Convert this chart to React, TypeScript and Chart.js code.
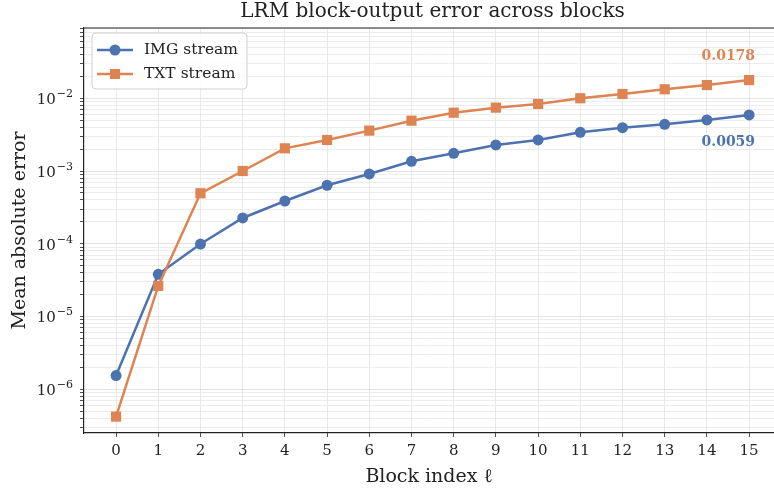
import React, { useEffect, useRef } from 'react';
import { Chart, registerables } from 'chart.js';

Chart.register(...registerables);

const FONT = '"DejaVu Serif", serif';

const blocks = [0, 1, 2, 3, 4, 5, 6, 7, 8, 9, 10, 11, 12, 13, 14, 15];
const imgStream = [1.54e-6, 3.8e-5, 9.9e-5, 2.26e-4, 3.87e-4, 6.37e-4, 9.1e-4, 1.36e-3, 1.75e-3, 2.28e-3, 2.67e-3, 3.4e-3, 3.94e-3, 4.38e-3, 5.03e-3, 5.9e-3];
const txtStream = [4.2e-7, 2.63e-5, 4.94e-4, 1.0e-3, 2.05e-3, 2.67e-3, 3.59e-3, 4.92e-3, 6.33e-3, 7.43e-3, 8.35e-3, 1.0e-2, 1.146e-2, 1.33e-2, 1.52e-2, 1.78e-2];
const seriesNames = ['IMG stream', 'TXT stream'];
const seriesColors = ['#4c72b0', '#dd8452'];
const titleText = 'LRM block-output error across blocks';
const xTitle = 'Block index ℓ';
const yTitle = 'Mean absolute error';
const yMin = 2.5e-7;
const yMax = 0.0925;
const xMin = -0.76;
const xMaxVisible = 15.59;
const xMaxFull = 15.76;

const isDecade = (v: number) => {
  const l = Math.log10(v);
  return Math.abs(l - Math.round(l)) < 1e-6;
};

const overlayPlugin = {
  id: 'overlay',
  afterDraw(chart: any) {
    const ctx = chart.ctx;
    const area = chart.chartArea;
    const xs = chart.scales.x;
    const ys = chart.scales.y;
    ctx.save();
    // top spine
    ctx.strokeStyle = '#222';
    ctx.lineWidth = 1.2;
    ctx.beginPath();
    ctx.moveTo(area.left, area.top);
    ctx.lineTo(area.right, area.top);
    ctx.stroke();

    // y tick labels: 10 with raised exponent
    ctx.fillStyle = '#222';
    ctx.textBaseline = 'alphabetic';
    ys.ticks.forEach((t: any) => {
      if (!isDecade(t.value)) return;
      const e = Math.round(Math.log10(t.value));
      const py = ys.getPixelForValue(t.value);
      const expStr = '−' + String(Math.abs(e));
      ctx.font = `11px ${FONT}`;
      const ew = ctx.measureText(expStr).width;
      const right = area.left - 11;
      ctx.textAlign = 'right';
      ctx.fillText(expStr, right, py - 1);
      ctx.font = `15px ${FONT}`;
      ctx.fillText('10', right - ew - 1, py + 6);
    });

    // title
    const fullRight = xs.getPixelForValue(xMaxFull);
    ctx.fillStyle = '#222';
    ctx.font = `20px ${FONT}`;
    ctx.textAlign = 'center';
    ctx.textBaseline = 'middle';
    ctx.fillText(titleText, (area.left + fullRight) / 2, 12);

    // end annotations
    const last = blocks.length - 1;
    ctx.font = `bold 14px ${FONT}`;
    ctx.textAlign = 'right';
    const tx = xs.getPixelForValue(blocks[last]);
    ctx.fillStyle = seriesColors[1];
    ctx.fillText(txtStream[last].toFixed(4), tx + 6, ys.getPixelForValue(txtStream[last]) - 24);
    ctx.fillStyle = seriesColors[0];
    ctx.fillText(imgStream[last].toFixed(4), tx + 6, ys.getPixelForValue(imgStream[last]) + 27);

    // legend
    const lx = area.left + 8;
    const ly = area.top + 5;
    const lw = 155;
    const lh = 56;
    ctx.beginPath();
    ctx.roundRect(lx, ly, lw, lh, 4);
    ctx.fillStyle = 'rgba(255,255,255,0.85)';
    ctx.fill();
    ctx.strokeStyle = '#d0d0d0';
    ctx.lineWidth = 1;
    ctx.stroke();
    ctx.font = `15.5px ${FONT}`;
    ctx.textAlign = 'left';
    ctx.textBaseline = 'middle';
    seriesNames.forEach((name, i) => {
      const y = ly + 17 + i * 24;
      ctx.strokeStyle = seriesColors[i];
      ctx.lineWidth = 2.5;
      ctx.beginPath();
      ctx.moveTo(lx + 5, y);
      ctx.lineTo(lx + 41, y);
      ctx.stroke();
      ctx.fillStyle = seriesColors[i];
      if (i === 0) {
        ctx.beginPath();
        ctx.arc(lx + 23, y, 5.5, 0, Math.PI * 2);
        ctx.fill();
      } else {
        ctx.fillRect(lx + 18, y - 5, 10, 10);
      }
      ctx.fillStyle = '#222';
      ctx.fillText(name, lx + 52, y);
    });
    ctx.restore();
  },
};

export default function App() {
  const ref = useRef<HTMLCanvasElement | null>(null);
  useEffect(() => {
    if (!ref.current) return;
    const chart = new Chart(ref.current, {
      type: 'line',
      data: {
        datasets: [
          {
            label: seriesNames[0],
            data: blocks.map((b, i) => ({ x: b, y: imgStream[i] })),
            borderColor: seriesColors[0],
            backgroundColor: seriesColors[0],
            borderWidth: 2.5,
            pointStyle: 'circle',
            pointRadius: 5.5,
            pointBorderWidth: 0,
            tension: 0,
            order: 1,
          },
          {
            label: seriesNames[1],
            data: blocks.map((b, i) => ({ x: b, y: txtStream[i] })),
            borderColor: seriesColors[1],
            backgroundColor: seriesColors[1],
            borderWidth: 2.5,
            pointStyle: 'rect',
            pointRadius: 7.2,
            pointBorderWidth: 0,
            tension: 0,
            order: 0,
          },
        ],
      },
      options: {
        responsive: false,
        animation: false,
        devicePixelRatio: 1,
        layout: { autoPadding: false, padding: { top: 28, right: 0, bottom: 0, left: 0 } },
        plugins: { legend: { display: false }, tooltip: { enabled: false }, title: { display: false } },
        scales: {
          x: {
            type: 'linear',
            min: xMin,
            max: xMaxVisible,
            afterBuildTicks: (scale: any) => {
              scale.ticks = blocks.map((b) => ({ value: b }));
            },
            afterFit: (scale: any) => {
              scale.height = 55;
              scale.paddingLeft = 0;
              scale.paddingRight = 0;
            },
            ticks: {
              autoSkip: false,
              maxRotation: 0,
              padding: 5,
              color: '#222',
              font: { family: FONT, size: 15 },
              callback: (v: any) => String(v),
            },
            grid: { color: '#e3e3e3', lineWidth: 0.8, tickColor: '#222', tickLength: 4 },
            border: { color: '#222', width: 1.2 },
            title: {
              display: true,
              text: xTitle,
              color: '#222',
              font: { family: FONT, size: 19 },
              padding: { top: 2, bottom: 0 },
            },
          },
          y: {
            type: 'logarithmic',
            min: yMin,
            max: yMax,
            afterBuildTicks: (scale: any) => {
              const t: any[] = [];
              for (let e = -8; e <= 0; e++) {
                for (let m = 1; m <= 9; m++) {
                  const v = m * Math.pow(10, e);
                  if (v >= yMin && v <= yMax) t.push({ value: v, major: m === 1 });
                }
              }
              scale.ticks = t;
            },
            afterFit: (scale: any) => {
              scale.width = 84;
              scale.paddingTop = 0;
              scale.paddingBottom = 0;
            },
            ticks: {
              autoSkip: false,
              padding: 4,
              color: 'rgba(0,0,0,0)',
              font: { family: FONT, size: 15 },
              callback: () => '',
            },
            grid: {
              color: (c: any) => (c.tick && c.tick.major ? '#dcdcdc' : '#e8e8e8'),
              lineWidth: 0.8,
              tickColor: '#222',
              tickLength: 4,
            },
            border: { color: '#222', width: 1.2 },
            title: {
              display: true,
              text: yTitle,
              color: '#222',
              font: { family: FONT, size: 19 },
              padding: { top: 9, bottom: 0 },
            },
          },
        },
      },
      plugins: [overlayPlugin],
    } as any);
    return () => chart.destroy();
  }, []);
  return (
    <div style={{ position: 'absolute', left: 0, top: 0, width: 774, height: 488, background: '#fff' }}>
      <canvas ref={ref} width={774} height={488} style={{ display: 'block' }} />
    </div>
  );
}
